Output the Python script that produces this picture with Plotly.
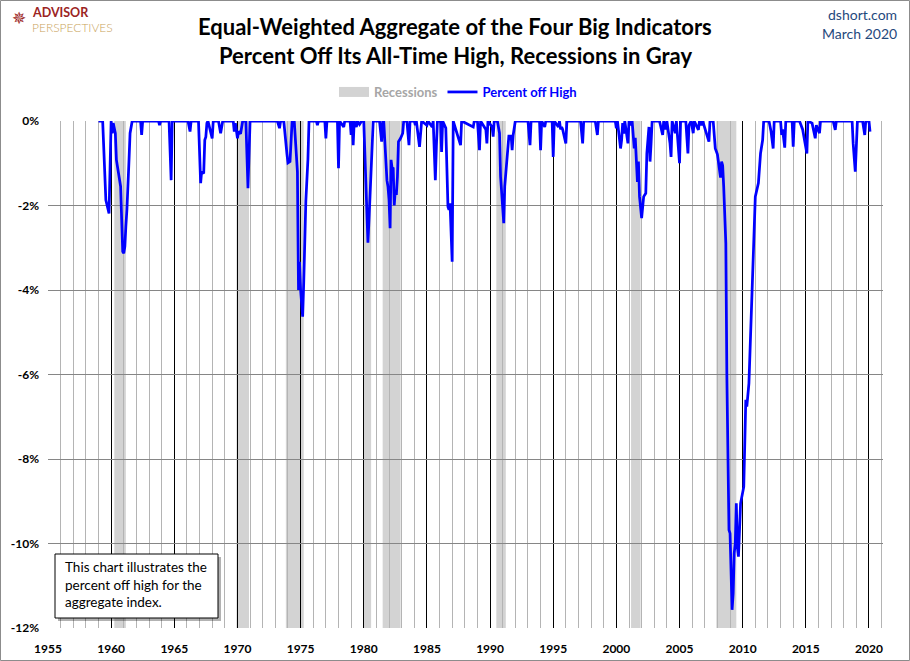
import plotly.graph_objects as go

# Equal-weighted aggregate of the four big indicators, % off all-time high
# (March 2020)
dates = [
    "1959-01", "1959-05", "1959-08", "1959-11", "1960-01", "1960-02", "1960-03", "1960-05",
    "1960-06", "1960-08", "1960-09", "1960-10", "1960-11", "1960-12", "1961-01", "1961-02",
    "1961-03", "1961-04", "1961-06", "1961-07", "1961-09", "1962-05", "1962-06", "1962-07",
    "1963-10", "1963-11", "1963-12", "1964-08", "1964-10", "1964-11", "1966-02", "1966-04",
    "1966-05", "1966-12", "1967-02", "1967-03", "1967-05", "1967-06", "1967-07", "1967-08",
    "1967-09", "1968-01", "1968-02", "1968-07", "1968-09", "1968-10", "1968-11", "1969-09",
    "1969-10", "1969-11", "1970-01", "1970-02", "1970-04", "1970-06", "1970-09", "1970-11",
    "1971-01", "1973-03", "1973-05", "1973-06", "1973-09", "1973-12", "1974-01", "1974-03",
    "1974-05", "1974-07", "1974-09", "1974-10", "1974-11", "1974-12", "1975-01", "1975-03",
    "1975-04", "1975-05", "1975-06", "1975-08", "1975-09", "1976-04", "1976-05", "1976-06",
    "1976-12", "1977-01", "1977-02", "1977-12", "1978-01", "1978-02", "1978-06", "1978-07",
    "1978-12", "1979-01", "1979-02", "1979-03", "1979-04", "1979-06", "1979-07", "1979-09",
    "1979-11", "1980-01", "1980-03", "1980-05", "1980-06", "1980-08", "1980-10", "1981-04",
    "1981-06", "1981-07", "1981-08", "1981-11", "1981-12", "1982-01", "1982-02", "1982-03",
    "1982-04", "1982-05", "1982-06", "1982-07", "1982-08", "1982-09", "1982-10", "1982-12",
    "1983-02", "1983-03", "1983-06", "1983-08", "1983-09", "1984-01", "1984-02", "1984-03",
    "1984-06", "1984-08", "1985-01", "1985-02", "1985-06", "1985-07", "1985-09", "1985-10",
    "1985-11", "1986-02", "1986-03", "1986-04", "1986-07", "1986-09", "1986-10", "1986-11",
    "1986-12", "1987-01", "1987-02", "1987-09", "1987-10", "1988-09", "1988-10", "1989-01",
    "1989-03", "1989-04", "1989-09", "1989-10", "1989-11", "1990-03", "1990-04", "1990-05",
    "1990-08", "1990-10", "1990-11", "1991-01", "1991-02", "1991-03", "1991-05", "1991-06",
    "1991-07", "1991-08", "1991-09", "1991-10", "1991-11", "1992-01", "1993-01", "1993-03",
    "1993-04", "1993-12", "1994-01", "1994-02", "1994-05", "1994-06", "1994-12", "1995-01",
    "1995-02", "1995-06", "1995-07", "1995-08", "1995-09", "1995-10", "1996-01", "1996-02",
    "1997-03", "1997-05", "1997-06", "1998-05", "1998-07", "1998-08", "1999-12", "2000-01",
    "2000-02", "2000-05", "2000-06", "2000-07", "2000-08", "2000-09", "2000-10", "2000-12",
    "2001-01", "2001-03", "2001-04", "2001-06", "2001-07", "2001-09", "2001-10", "2001-11",
    "2002-01", "2002-02", "2002-03", "2002-05", "2002-06", "2002-08", "2002-09", "2002-10",
    "2002-11", "2003-06", "2003-09", "2003-10", "2003-12", "2004-01", "2004-04", "2004-05",
    "2004-06", "2004-09", "2004-10", "2005-01", "2005-02", "2005-07", "2005-08", "2005-09",
    "2005-10", "2005-12", "2006-02", "2006-03", "2006-07", "2006-08", "2006-10", "2006-11",
    "2007-05", "2007-06", "2007-09", "2007-11", "2008-01", "2008-03", "2008-04", "2008-05",
    "2008-06", "2008-07", "2008-08", "2008-09", "2008-10", "2008-12", "2009-01", "2009-02",
    "2009-03", "2009-04", "2009-05", "2009-06", "2009-07", "2009-08", "2009-09", "2009-11",
    "2010-01", "2010-02", "2010-04", "2010-05", "2010-07", "2010-10", "2011-01", "2011-04",
    "2011-06", "2011-08", "2011-09", "2012-02", "2012-04", "2012-06", "2012-07", "2013-01",
    "2013-02", "2013-03", "2013-05", "2013-06", "2013-12", "2014-01", "2014-02", "2014-07",
    "2014-09", "2014-10", "2015-02", "2015-03", "2015-07", "2015-09", "2015-10", "2015-11",
    "2016-02", "2016-03", "2017-03", "2017-05", "2017-06", "2018-09", "2018-10", "2018-12",
    "2019-01", "2019-02", "2019-07", "2019-09", "2019-10", "2020-01", "2020-02",
]
pct_off_high = [
    0.0, 0.0, -1.87, -2.19, 0.0, -0.29, -0.05, -0.29,
    -0.92, -1.23, -1.32, -1.55, -2.34, -3.09, -3.13, -2.97,
    -2.5, -2.1, -0.92, -0.29, 0.0, 0.0, -0.33, 0.0,
    0.0, -0.1, 0.0, 0.0, -1.4, 0.0, 0.0, -0.25,
    0.0, 0.0, -1.47, -1.2, -1.24, -0.45, -0.38, -0.05,
    0.0, -0.41, 0.0, 0.0, -0.29, -0.1, 0.0, 0.0,
    -0.25, -0.05, -0.41, -0.25, -0.3, 0.0, 0.0, -1.59,
    0.0, 0.0, -0.17, 0.0, 0.0, -0.77, -0.99, -0.96,
    0.0, 0.0, -0.92, -1.2, -4.0, -3.33, -4.0, -4.63,
    -3.83, -2.6, -1.9, -0.9, 0.0, 0.0, -0.1, 0.0,
    0.0, -0.41, 0.0, 0.0, -1.12, 0.0, -0.14, 0.0,
    0.0, -0.33, 0.0, -0.57, 0.0, -0.14, 0.0, -0.08,
    0.0, 0.0, -1.71, -2.88, -2.34, -1.16, 0.0, 0.0,
    -0.49, 0.0, 0.0, -1.4, -1.55, -1.87, -2.54, -0.92,
    -1.12, -1.1, -2.0, -1.63, -1.75, -1.32, -0.49, -0.41,
    -0.29, 0.0, 0.0, -0.57, 0.0, 0.0, -0.1, 0.0,
    -0.61, 0.0, -0.1, 0.0, -0.14, 0.0, -1.4, -0.61,
    0.0, 0.0, -0.73, 0.0, -0.17, -2.03, -2.1, -1.95,
    -2.82, -3.33, 0.0, -0.57, 0.0, -0.14, 0.0, 0.0,
    -0.69, 0.0, -0.2, -0.53, 0.0, -0.14, -0.37, 0.0,
    0.0, -0.29, -1.32, -2.03, -2.42, -1.55, -0.92, -0.61,
    -0.33, -0.45, -0.33, -0.69, -0.33, 0.0, 0.0, -0.57,
    0.0, 0.0, -0.69, 0.0, -0.14, 0.0, 0.0, -0.85,
    0.0, -0.14, 0.0, -0.2, -0.14, -0.2, -0.53, 0.0,
    0.0, -0.53, 0.0, 0.0, -0.33, 0.0, 0.0, -0.17,
    0.0, -0.65, -0.45, -0.05, -0.3, 0.0, -0.2, -0.53,
    0.0, -0.1, 0.0, -0.65, -0.4, -1.44, -0.96, -1.79,
    -2.3, -2.1, -1.79, -1.71, -0.77, -0.14, -0.96, -0.53,
    0.0, 0.0, -0.33, 0.0, -0.2, 0.0, -0.53, -0.85,
    0.0, -0.29, 0.0, -1.0, 0.0, 0.0, -0.37, -0.77,
    -0.1, 0.0, -0.29, 0.0, -0.21, 0.0, -0.1, 0.0,
    -0.49, 0.0, 0.0, -0.65, -0.79, -1.2, -1.34, -0.96,
    -1.05, -1.55, -2.1, -2.9, -6.05, -9.68, -9.76, -11.26,
    -11.57, -11.18, -10.23, -10.0, -9.05, -10.08, -10.31, -9.05,
    -8.81, -8.66, -6.6, -6.76, -6.21, -4.16, -1.79, -1.47,
    -0.77, -0.45, 0.0, 0.0, -0.25, -0.65, 0.0, 0.0,
    -0.33, -0.2, -0.63, 0.0, 0.0, -0.61, 0.0, 0.0,
    -0.14, -0.2, -0.77, 0.0, -0.05, -0.29, -0.41, -0.1,
    -0.29, 0.0, 0.0, -0.21, 0.0, 0.0, -0.53, -1.2,
    -0.53, 0.0, 0.0, -0.33, 0.0, 0.0, -0.25,
]

# NBER recessions (shaded through the end of the trough month)
rec_start = ["1960-04-01", "1969-12-01", "1973-11-01", "1980-01-01",
             "1981-07-01", "1990-07-01", "2001-03-01", "2007-12-01"]
rec_end = ["1961-03-01", "1970-12-01", "1975-04-01", "1980-08-01",
           "1982-12-01", "1991-04-01", "2001-12-01", "2009-07-01"]

y_ticks = [0, -2, -4, -6, -8, -10, -12]
y_labels = ["0%", "-2%", "-4%", "-6%", "-8%", "-10%", "-12%"]

title_lines = ["Equal-Weighted Aggregate of the Four Big Indicators",
               "Percent Off Its All-Time High, Recessions in Gray"]

FONT = "Lato"
W, H = 910, 661
L, R, T, B = 48, 27, 121, 33
pw, ph = W - L - R, H - T - B


def px(x, y):
    # pixel position on the page -> paper coordinates
    return (x - L) / pw, (H - B - y) / ph


fig = go.Figure()

fig.add_trace(go.Scatter(
    x=[None], y=[None], mode="lines",
    line=dict(color="#d3d3d3", width=11),
    name="<span style='color:#a6a6a6'>Recessions</span>",
))
fig.add_trace(go.Scatter(
    x=dates, y=pct_off_high, mode="lines",
    line=dict(color="#0000ff", width=2.75),
    name="Percent off High",
))

for s, e in zip(rec_start, rec_end):
    fig.add_shape(type="rect", xref="x", yref="paper", x0=s, x1=e, y0=0, y1=1,
                  fillcolor="#d3d3d3", line_width=0, layer="below")

# note box with drop shadow
bx0, by0 = px(58, 621)
bx1, by1 = px(221, 557)
fig.add_shape(type="rect", xref="paper", yref="paper", x0=bx0, y0=by0, x1=bx1, y1=by1,
              fillcolor="rgba(0,0,0,0.3)", line_width=0, layer="above")
bx0, by0 = px(55, 618)
bx1, by1 = px(218, 554)
fig.add_shape(type="rect", xref="paper", yref="paper", x0=bx0, y0=by0, x1=bx1, y1=by1,
              fillcolor="white", line=dict(color="black", width=1), layer="above")
tx, ty = px(63, 557)
fig.add_annotation(xref="paper", yref="paper", x=tx, y=ty, xanchor="left", yanchor="top",
                   text="This chart illustrates the<br>percent off high for the<br>aggregate index.",
                   align="left", showarrow=False,
                   font=dict(family=FONT, size=13.5, color="black"))

# outer frame
fx0, fy0 = px(0.5, H - 0.5)
fx1, fy1 = px(W - 0.5, 0.5)
fig.add_shape(type="rect", xref="paper", yref="paper", x0=fx0, y0=fy0, x1=fx1, y1=fy1,
              line=dict(color="#8c8c8c", width=1), layer="above")

# two-line title
for line, ypx in zip(title_lines, [27, 55]):
    tx, ty = px(455, ypx)
    fig.add_annotation(xref="paper", yref="paper", x=tx, y=ty, xanchor="center", yanchor="middle",
                       text=f"<b>{line}</b>", showarrow=False,
                       font=dict(family=FONT, size=22, color="black"))

# logo and source
lx, ly = px(19, 18)
fig.add_annotation(xref="paper", yref="paper", x=lx, y=ly, xanchor="center", yanchor="middle",
                   text="✵", showarrow=False, borderpad=0,
                   font=dict(family="DejaVu Sans", size=17, color="#9b2423"))
lx, ly = px(31, 12)
fig.add_annotation(xref="paper", yref="paper", x=lx, y=ly, xanchor="left", yanchor="middle",
                   text="<b>ADVISOR</b>", showarrow=False, borderpad=0,
                   font=dict(family=FONT, size=12.5, color="#9b2423"))
lx, ly = px(31, 28)
fig.add_annotation(xref="paper", yref="paper", x=lx, y=ly, xanchor="left", yanchor="middle",
                   text="PERSPECTIVES", showarrow=False, borderpad=0,
                   font=dict(family=FONT, size=12, color="#c9a35a", weight=300))
sx, sy = px(899, 14)
fig.add_annotation(xref="paper", yref="paper", x=sx, y=sy, xanchor="right", yanchor="middle",
                   text="dshort.com", showarrow=False,
                   font=dict(family=FONT, size=14, color="#1f497d"))
sx, sy = px(899, 33)
fig.add_annotation(xref="paper", yref="paper", x=sx, y=sy, xanchor="right", yanchor="middle",
                   text="March 2020", showarrow=False,
                   font=dict(family=FONT, size=14, color="#1f497d"))

lgx, lgy = px(458, 92)
fig.update_layout(
    width=W, height=H,
    margin=dict(l=L, r=R, t=T, b=B, autoexpand=False),
    paper_bgcolor="white", plot_bgcolor="white",
    legend=dict(
        orientation="h", x=lgx, y=lgy, xanchor="center", yanchor="middle",
        font=dict(family=FONT, size=13, color="#0000ff", weight="bold"),
        bgcolor="rgba(0,0,0,0)",
    ),
    showlegend=True,
)

fig.update_xaxes(
    type="date", range=["1955-01-01", "2021-02-10"],
    tick0="1955-01-01", dtick="M60", tickformat="%Y",
    showgrid=True, gridcolor="black", gridwidth=1,
    minor=dict(dtick="M12", tick0="1955-01-01", showgrid=True, gridcolor="#b4b4b4", gridwidth=1),
    zeroline=False, showline=False, ticks="", automargin=False,
    ticklabelstandoff=12,
    tickfont=dict(family=FONT, size=12, color="black", weight="bold"),
)
fig.update_yaxes(
    range=[-12, 0], tickvals=y_ticks, ticktext=y_labels,
    showgrid=True, gridcolor="#868686", gridwidth=1,
    zeroline=False, showline=False, ticks="", automargin=False,
    ticklabelstandoff=8,
    tickfont=dict(family=FONT, size=12, color="black", weight="bold"),
)

fig.write_html("out.html", config={"displayModeBar": False},
               post_script="document.body.style.margin='0px';")
